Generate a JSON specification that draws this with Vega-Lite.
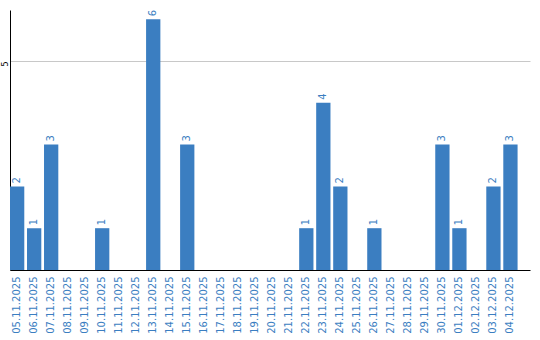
{
  "$schema": "https://vega.github.io/schema/vega-lite/v6.json",
  "autosize": {"type": "none"},
  "padding": {"left": 10, "top": 10, "right": 10, "bottom": 70},
  "width": 520,
  "height": 260,
  "background": "white",
  "config": {"view": {"stroke": null}, "font": "DejaVu Sans"},
  "data": {"values": [
    {"date": "05.11.2025", "count": 2},
    {"date": "06.11.2025", "count": 1},
    {"date": "07.11.2025", "count": 3},
    {"date": "08.11.2025", "count": 0},
    {"date": "09.11.2025", "count": 0},
    {"date": "10.11.2025", "count": 1},
    {"date": "11.11.2025", "count": 0},
    {"date": "12.11.2025", "count": 0},
    {"date": "13.11.2025", "count": 6},
    {"date": "14.11.2025", "count": 0},
    {"date": "15.11.2025", "count": 3},
    {"date": "16.11.2025", "count": 0},
    {"date": "17.11.2025", "count": 0},
    {"date": "18.11.2025", "count": 0},
    {"date": "19.11.2025", "count": 0},
    {"date": "20.11.2025", "count": 0},
    {"date": "21.11.2025", "count": 0},
    {"date": "22.11.2025", "count": 1},
    {"date": "23.11.2025", "count": 4},
    {"date": "24.11.2025", "count": 2},
    {"date": "25.11.2025", "count": 0},
    {"date": "26.11.2025", "count": 1},
    {"date": "27.11.2025", "count": 0},
    {"date": "28.11.2025", "count": 0},
    {"date": "29.11.2025", "count": 0},
    {"date": "30.11.2025", "count": 3},
    {"date": "01.12.2025", "count": 1},
    {"date": "02.12.2025", "count": 0},
    {"date": "03.12.2025", "count": 2},
    {"date": "04.12.2025", "count": 3}
  ]},
  "encoding": {
    "x": {
      "field": "date", "type": "ordinal", "sort": null,
      "scale": {"paddingInner": 0.16, "paddingOuter": 0.365, "align": 0},
      "axis": {
        "title": null, "labelAngle": -90, "labelAlign": "right", "labelBaseline": "middle",
        "labelFontSize": 10, "labelColor": "#3b7ec1", "labelPadding": 6,
        "ticks": false, "domainColor": "#000000", "domainWidth": 1, "grid": false
      }
    },
    "y": {
      "field": "count", "type": "quantitative",
      "scale": {"domain": [0, 6.22], "nice": false, "zero": true},
      "axis": {
        "title": null, "values": [5], "labelAngle": -90, "labelAlign": "right", "labelBaseline": "middle",
        "labelFontSize": 8, "labelColor": "#000000", "labelPadding": 5,
        "ticks": false, "domainColor": "#000000", "domainWidth": 1,
        "grid": true, "gridColor": "#c8c8c8", "gridWidth": 1
      }
    }
  },
  "layer": [
    {"mark": {"type": "bar", "color": "#3b7ec1"}},
    {
      "transform": [{"filter": "datum.count > 0"}],
      "mark": {"type": "text", "angle": -90, "align": "left", "baseline": "middle", "dx": 3, "fontSize": 10, "color": "#3b7ec1"},
      "encoding": {"text": {"field": "count", "type": "quantitative"}}
    }
  ]
}
